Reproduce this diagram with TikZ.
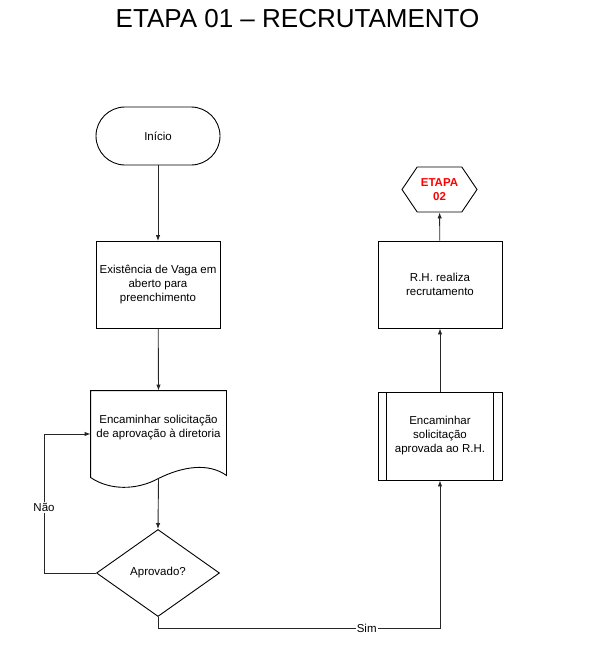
\documentclass[tikz,border=0pt]{standalone}
\usepackage{fontspec}
\setmainfont{Liberation Sans}
\usetikzlibrary{shapes.geometric,shapes.symbols,arrows.meta}

\begin{document}
\begin{tikzpicture}[x=1pt,y=-1pt,line width=0.9pt,
	every node/.style={font=\fontsize{11.5}{14}\selectfont,align=center,inner sep=0pt},
	box/.style={draw,rectangle,minimum width=124pt,minimum height=87pt},
	conn/.style={draw=black!85,line width=0.9pt},
	arr/.style={conn,-{Latex[length=6pt,width=4.5pt]}},
	lbl/.style={fill=white,inner sep=1pt}]
	\useasboundingbox (0,0) rectangle (605,645);
	\node[font=\fontsize{26}{30}\selectfont] (title) at (297.5,19) {ETAPA 01 -- RECRUTAMENTO};
	% left column
	\node[draw,rectangle,rounded corners=29pt,minimum width=124pt,minimum height=58pt] (inicio) at (158,136) {Início};
	\node[box] (vaga) at (158,285) {Existência de Vaga em\\aberto para\\preenchimento};
	\node[minimum width=135pt,minimum height=74pt] (doc) at (158.5,428) {Encaminhar solicitação\\de aprovação à diretoria};
	\draw (doc.north west) -- (doc.north east) -- ([yshift=-10pt]doc.south east)
		.. controls +(-18,-13) and +(24,-12) .. ([yshift=-13pt]doc.south)
		.. controls +(-22,12) and +(19,13) .. ([yshift=-12pt]doc.south west) -- cycle;
	\node[draw,diamond,minimum width=123pt,minimum height=87pt] (aprov) at (158,573) {Aprovado?};
	% right column
	\node[box,minimum height=88pt] (proc) at (440,436) {Encaminhar\\solicitação\\aprovada ao R.H.};
	\draw ([xshift=9pt]proc.north west) -- ([xshift=9pt]proc.south west);
	\draw ([xshift=-9pt]proc.north east) -- ([xshift=-9pt]proc.south east);
	\node[box] (rh) at (440,284.5) {R.H. realiza\\recrutamento};
	\node[draw,signal,signal to=west and east,signal pointer angle=112,minimum width=75pt,minimum height=45pt,
		text=red,font=\bfseries\fontsize{11.5}{14}\selectfont] (etapa) at (439.5,189.5) {ETAPA\\02};
	% connectors
	\coordinate (naoc) at (44,573);
	\coordinate (simc) at (440,628);
	\coordinate (docin) at ([yshift=-6pt]doc.west);
	\coordinate (docout) at ([yshift=-13pt]doc.south);
	\draw[arr] (inicio) -- (vaga);
	\draw[arr] (vaga) -- (doc.north);
	\draw[arr] (docout) -- (aprov.north);
	\draw[arr] (aprov.west) -- (naoc) -- node[lbl,pos=0.47]{Não} (naoc |- docin) -- (docin);
	\draw[arr] (aprov.south) -- (aprov.south |- simc) -- node[lbl,pos=0.74]{Sim} (simc) -- (proc.south);
	\draw[arr] (proc) -- (rh);
	\draw[arr] (rh) -- (etapa);
\end{tikzpicture}
\end{document}
